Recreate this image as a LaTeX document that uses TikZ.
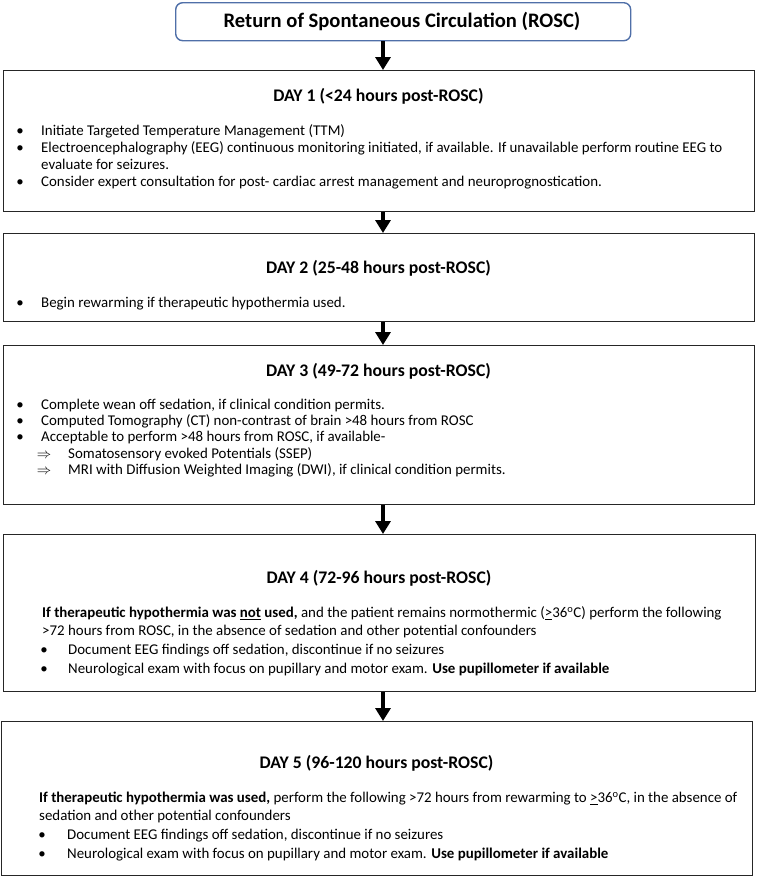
\documentclass[tikz,border=0pt]{standalone}
\usepackage{fontspec}
\setmainfont{Carlito}
\usetikzlibrary{arrows.meta}
\definecolor{roscblue}{HTML}{4F6FA8}
\tikzset{
  daybox/.style={draw=black!85, line width=1.3pt, inner sep=0pt, anchor=north west},
  roscbox/.style={draw=roscblue, line width=1.4pt, rounded corners=7pt, inner sep=0pt, anchor=north west},
  ttl/.style={anchor=center, inner sep=0pt, font=\bfseries\fontsize{17.7}{20}\selectfont},
  roscttl/.style={anchor=center, inner sep=0pt, font=\bfseries\fontsize{20.6}{23}\selectfont},
  txt/.style={anchor=mid west, inner sep=0pt, font=\fontsize{14.9}{17}\selectfont},
  bul/.style={anchor=mid, inner sep=0pt, text height=4pt, text depth=0pt, font=\fontsize{14.9}{17}\selectfont},
  arr/.style={line width=4pt, -{Triangle[width=15pt,length=13pt]}, black}
}
\begin{document}
\begin{tikzpicture}[x=1pt,y=1pt]
\useasboundingbox (0,0) rectangle (757,-876);
% boxes
\node[roscbox, minimum width=455pt, minimum height=38pt] (rosc) at (175,-2) {};
\node[roscttl] (rosct) at (402,-21) {Return of Spontaneous Circulation (ROSC)};
\node[daybox, minimum width=751pt, minimum height=141pt] (d1) at (3,-70) {};
\node[daybox, minimum width=751pt, minimum height=88pt] (d2) at (3,-233) {};
\node[daybox, minimum width=751pt, minimum height=159pt] (d3) at (3,-345) {};
\node[daybox, minimum width=752pt, minimum height=157pt] (d4) at (3,-534) {};
\node[daybox, minimum width=751pt, minimum height=154pt] (d5) at (1,-721) {};
% arrows
\coordinate (ax) at (383,0);
\draw[arr] (rosc.south -| ax) -- (d1.north -| ax);
\draw[arr] (d1.south -| ax) -- (d2.north -| ax);
\draw[arr] (d2.south -| ax) -- (d3.north -| ax);
\draw[arr] (d3.south -| ax) -- (d4.north -| ax);
\draw[arr] (d4.south -| ax) -- (d5.north -| ax);
% Day 1
\node[ttl] (t1) at (378.5,-96) {DAY 1 (<24 hours post-ROSC)};
\node[bul] (b11) at (20,-133) {\textbullet};
\node[txt] (l11) at (41,-133) {Initiate Targeted Temperature Management (TTM)};
\node[bul] (b12) at (20,-150) {\textbullet};
\node[txt] (l12) at (41,-150) {Electroencephalography (EEG) continuous monitoring initiated, if available. If unavailable perform routine EEG to};
\node[txt] (l13) at (41,-167) {evaluate for seizures.};
\node[bul] (b14) at (20,-184) {\textbullet};
\node[txt] (l14) at (41,-184) {Consider expert consultation for post- cardiac arrest management and neuroprognostication.};
% Day 2
\node[ttl] (t2) at (378.5,-268) {DAY 2 (25-48 hours post-ROSC)};
\node[bul] (b21) at (20,-305) {\textbullet};
\node[txt] (l21) at (41,-305) {Begin rewarming if therapeutic hypothermia used.};
% Day 3
\node[ttl] (t3) at (378.5,-371) {DAY 3 (49-72 hours post-ROSC)};
\node[bul] (b31) at (20,-407) {\textbullet};
\node[txt] (l31) at (41,-407) {Complete wean off sedation, if clinical condition permits.};
\node[bul] (b32) at (20,-423) {\textbullet};
\node[txt] (l32) at (41,-423) {Computed Tomography (CT) non-contrast of brain >48 hours from ROSC};
\node[bul] (b33) at (20,-439) {\textbullet};
\node[txt] (l33) at (41,-439) {Acceptable to perform >48 hours from ROSC, if available-};
\node[bul] (b34) at (44,-456) {$\Rightarrow$};
\node[txt] (l34) at (68,-456) {Somatosensory evoked Potentials (SSEP)};
\node[bul] (b35) at (44,-472) {$\Rightarrow$};
\node[txt] (l35) at (68,-472) {MRI with Diffusion Weighted Imaging (DWI), if clinical condition permits.};
% Day 4
\node[ttl] (t4) at (379,-578) {DAY 4 (72-96 hours post-ROSC)};
\node[txt] (l41) at (42,-615) {\textbf{If therapeutic hypothermia was \underline{not} used,} and the patient remains normothermic (\underline{>}36\textsuperscript{o}C) perform the following};
\node[txt] (l42) at (42,-633) {>72 hours from ROSC, in the absence of sedation and other potential confounders};
\node[bul] (b43) at (44,-652) {\textbullet};
\node[txt] (l43) at (68,-652) {Document EEG findings off sedation, discontinue if no seizures};
\node[bul] (b44) at (44,-671) {\textbullet};
\node[txt] (l44) at (68,-671) {Neurological exam with focus on pupillary and motor exam. \textbf{Use pupillometer if available}};
% Day 5
\node[ttl] (t5) at (376.5,-763) {DAY 5 (96-120 hours post-ROSC)};
\node[txt] (l51) at (39,-800) {\textbf{If therapeutic hypothermia was used,} perform the following >72 hours from rewarming to \underline{>}36\textsuperscript{o}C, in the absence of};
\node[txt] (l52) at (39,-818) {sedation and other potential confounders};
\node[bul] (b53) at (42,-837) {\textbullet};
\node[txt] (l53) at (67,-837) {Document EEG findings off sedation, discontinue if no seizures};
\node[bul] (b54) at (42,-856) {\textbullet};
\node[txt] (l54) at (67,-856) {Neurological exam with focus on pupillary and motor exam. \textbf{Use pupillometer if available}};
\end{tikzpicture}
\end{document}
